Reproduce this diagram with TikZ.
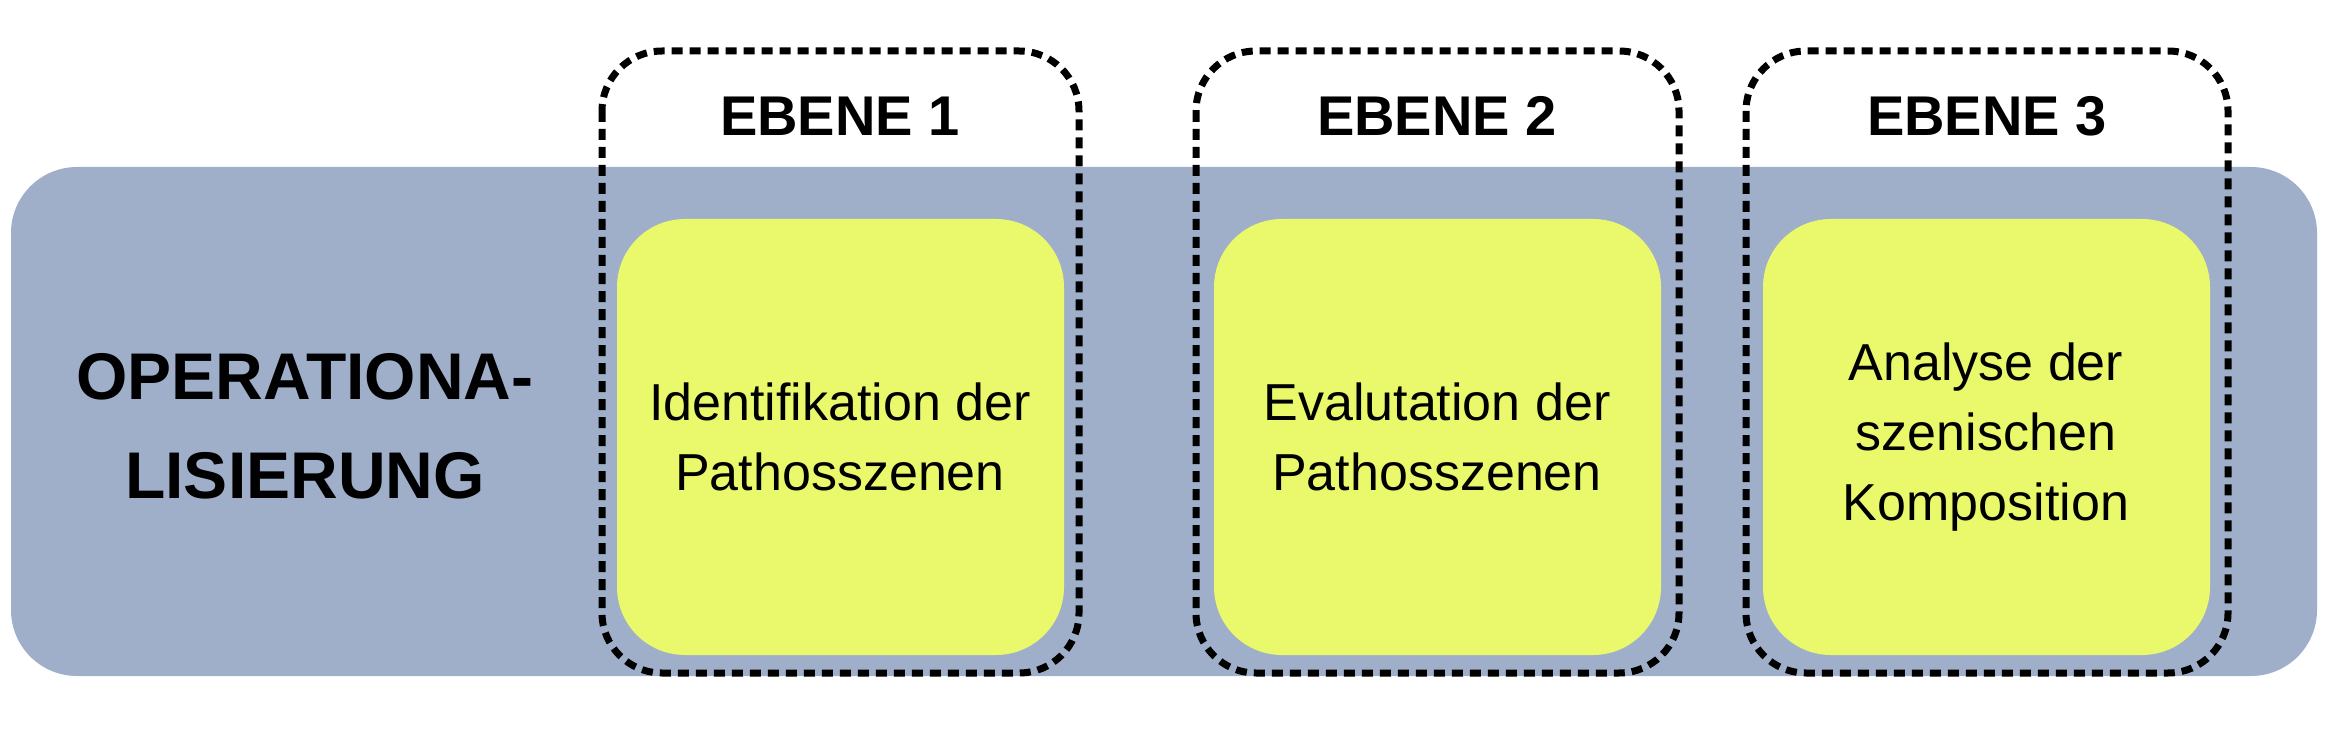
\documentclass[tikz,border=0pt]{standalone}
\usepackage{fontspec}
\setmainfont{Liberation Sans}
\usetikzlibrary{calc}
\definecolor{bandblue}{RGB}{159,175,201}
\definecolor{cardyellow}{RGB}{233,249,107}

\tikzset{
  band/.style={fill=bandblue, draw=none, rounded corners=66pt},
  card/.style={fill=cardyellow, draw=none, rounded corners=68pt},
  levelframe/.style={draw=black, line width=7pt, dash pattern=on 11pt off 7pt, rounded corners=60pt},
  cardtext/.style={align=center, font=\fontsize{52}{70}\selectfont},
  leveltext/.style={font=\fontsize{56}{60}\selectfont\bfseries}
}

\begin{document}
\begin{tikzpicture}[x=1pt,y=-1pt]
    \useasboundingbox (0,0) rectangle (2330,738);
    \draw[band] (11,167) rectangle (2317,676);
    \node[align=center, font=\fontsize{66}{99}\selectfont\bfseries] (opl) at (305,426) {OPERATIONA-\\LISIERUNG};

    \draw[card] (617,219) rectangle (1064,655);
    \draw[card] (1214,219) rectangle (1661,655);
    \draw[card] (1763,219) rectangle (2210,655);
    \node[cardtext] (c1) at (840,437) {Identifikation der\\Pathosszenen};
    \node[cardtext] (c2) at (1437,437) {Evalutation der\\Pathosszenen};
    \node[cardtext] (c3) at (1986,437) {Analyse der\\szenischen\\Komposition};

    \draw[levelframe] (602,51) rectangle (1079,673);
    \draw[levelframe] (1196,51) rectangle (1679,673);
    \draw[levelframe] (1746,51) rectangle (2228,673);
    \node[leveltext] (e1) at (840,116) {EBENE 1};
    \node[leveltext] (e2) at (1437,116) {EBENE 2};
    \node[leveltext] (e3) at (1987,116) {EBENE 3};
\end{tikzpicture}
\end{document}
